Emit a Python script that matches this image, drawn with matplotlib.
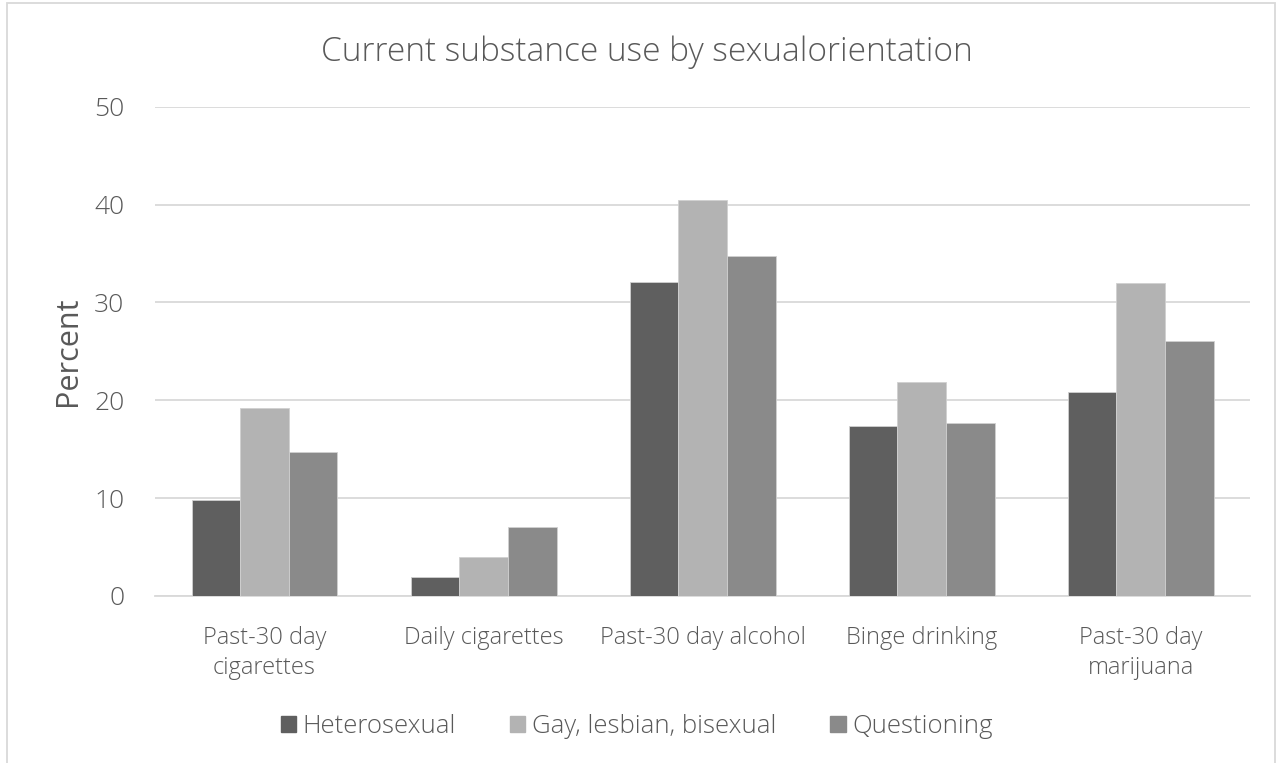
import matplotlib.pyplot as plt
import matplotlib.patches as mpatches
import numpy as np

plt.rcParams['font.family'] = ['Open Sans', 'DejaVu Sans']
plt.rcParams['font.weight'] = 'light'

categories = ['Past-30 day\ncigarettes', 'Daily cigarettes', 'Past-30 day alcohol',
              'Binge drinking', 'Past-30 day\nmarijuana']
series_names = ['Heterosexual', 'Gay, lesbian, bisexual', 'Questioning']
heterosexual = [9.8, 1.9, 32.1, 17.4, 20.8]
gay_lesbian_bi = [19.2, 4.0, 40.5, 21.9, 32.0]
questioning = [14.7, 7.0, 34.7, 17.7, 26.1]
colors = ['#5f5f5f', '#b3b3b3', '#8a8a8a']
text_color = '#595959'

fig = plt.figure(figsize=(12.81, 7.63), dpi=100)
ax = fig.add_axes([0.121, 0.219, 0.855, 0.641])

x = np.arange(len(categories))
width = 0.222
for i, (vals, name) in enumerate(zip([heterosexual, gay_lesbian_bi, questioning], series_names)):
    ax.bar(x + (i - 1) * width, vals, width, color=colors[i], label=name,
           edgecolor='#d0d0d0', linewidth=0.6, zorder=3)

ax.set_xlim(-0.5, len(categories) - 0.5)
ax.set_ylim(0, 50)
ax.set_yticks(range(0, 51, 10))
ax.yaxis.grid(True, color='#d9d9d9', linewidth=1.3, zorder=0)
ax.set_axisbelow(True)
for s in ['top', 'right', 'left']:
    ax.spines[s].set_visible(False)
ax.spines['bottom'].set_color('#d9d9d9')
ax.spines['bottom'].set_linewidth(1.3)
ax.tick_params(axis='both', length=0, colors=text_color)
ax.tick_params(axis='y', labelsize=19, pad=22)
ax.set_xticks(x)
ax.set_xticklabels(categories, fontsize=17, color=text_color, linespacing=1.3)
ax.tick_params(axis='x', pad=22)
ax.set_ylabel('Percent', fontsize=22, color=text_color, labelpad=8)

fig.text(0.505, 0.932, 'Current substance use by sexualorientation', ha='center',
         va='center', fontsize=24, color=text_color)

handles = [mpatches.Patch(color=c, label=n) for c, n in zip(colors, series_names)]
fig.legend(handles=handles, loc='center', bbox_to_anchor=(0.497, 0.048), ncol=3,
           frameon=False, fontsize=18.5, handlelength=0.6, handleheight=0.6,
           handletextpad=0.25, columnspacing=2.1, labelcolor=text_color)

border = mpatches.Rectangle((7 / 1281, -0.01), 1268 / 1281, 1 - 3 / 763 + 0.01,
                            transform=fig.transFigure, fill=False,
                            edgecolor='#d9d9d9', linewidth=1.3)
fig.patches.append(border)

fig.savefig('out.png', dpi=100)
